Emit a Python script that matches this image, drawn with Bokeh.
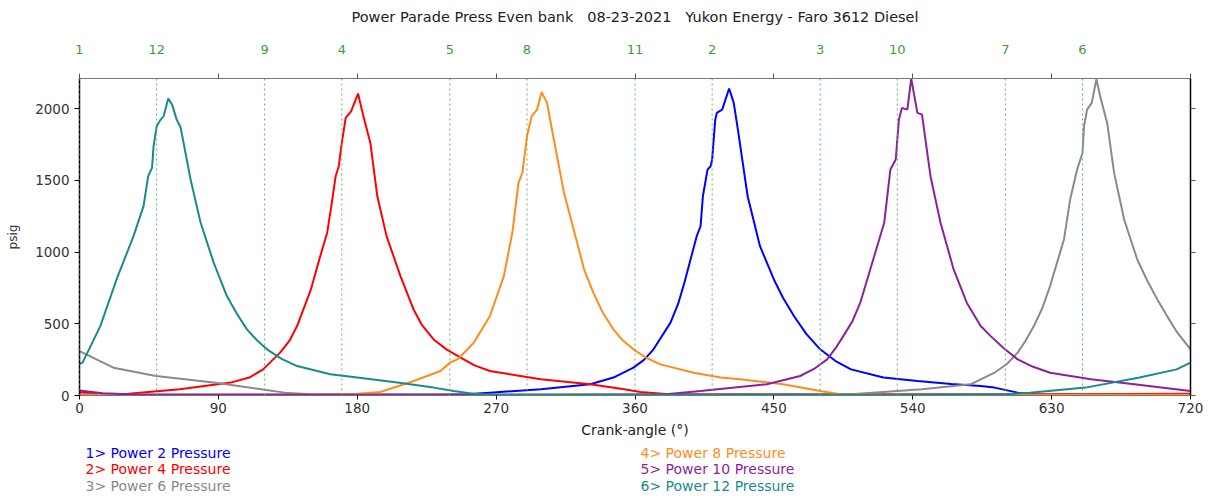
from bokeh.plotting import figure
from bokeh.models import Range1d, LinearAxis, FixedTicker, Span
from bokeh.layouts import column
from bokeh.embed import file_html
from bokeh.resources import INLINE
from bokeh.core.properties import value

# ---------------- data ----------------
title_parts = ["Power Parade Press Even bank", "08-23-2021", "Yukon Energy - Faro 3612 Diesel"]
x_label = "Crank-angle (°)"
y_label = "psig"

cyl_angles = [0, 50, 120, 170, 240, 290, 360, 410, 480, 530, 600, 650]
cyl_labels = ["1", "12", "9", "4", "5", "8", "11", "2", "3", "10", "7", "6"]
x_ticks = [0, 90, 180, 270, 360, 450, 540, 630, 720]
y_ticks = [0, 500, 1000, 1500, 2000]

series_names = ["1> Power 2 Pressure", "2> Power 4 Pressure", "3> Power 6 Pressure",
                "4> Power 8 Pressure", "5> Power 10 Pressure", "6> Power 12 Pressure"]

p2_deg = [0, 60, 120, 180, 230, 250, 266, 299, 331, 346, 359, 366, 372, 383, 388, 392, 400, 402.5,
          404, 407, 409, 410, 412, 413, 416.5, 421, 424, 427, 433, 441, 450, 456, 463, 471, 480,
          490, 500, 521, 543, 565, 584, 593, 608, 620, 660, 720]
p2_psig = [6, 5, 6, 5, 6, 8, 20, 43, 78, 125, 194, 250, 322, 508, 640, 786, 1111, 1180,
           1389, 1575, 1598, 1645, 1923, 1970, 1993, 2140, 2040, 1831, 1389, 1041, 809, 680, 554, 430, 322,
           240, 182, 125, 101, 80, 66, 55, 20, 8, 6, 5]

p4_deg = [0, 15, 30, 65, 98, 110, 119, 130, 136, 141, 150, 156, 160.5, 163.5, 166, 168, 170, 172.5,
          176, 180.5, 184, 188.5, 193, 199, 208, 216.5, 222, 229.5, 238, 247, 256, 266, 299, 331, 353,
          363.5, 380, 450, 540, 630, 720]
p4_psig = [22, 12, 10, 43, 90, 125, 182, 299, 380, 484, 740, 971, 1134, 1343, 1529, 1598, 1761, 1935,
           1981, 2105, 1946, 1761, 1389, 1111, 832, 600, 490, 391, 320, 264, 210, 171, 113, 78, 43,
           24, 10, 8, 8, 8, 12]

p6_deg = [0, 22, 49.5, 87, 121, 133, 150, 250, 350, 450, 500, 546, 577.5, 593, 601, 608, 613, 618.5,
          624, 629, 638, 642, 646.5, 650, 651, 653, 656, 659, 662, 666, 670.5, 677, 685.5, 692, 698.5,
          705, 711.5, 720]
p6_psig = [310, 194, 136, 90, 38, 20, 8, 6, 5, 6, 8, 43, 78, 159, 220, 299, 380, 484,
           610, 763, 1088, 1366, 1575, 1691, 1877, 1993, 2040, 2205, 2063, 1900, 1552, 1227, 948, 800, 670,
           550, 438, 322]

p8_deg = [0, 90, 150, 180, 195, 216.5, 234, 240, 245, 255.5, 266, 275, 280.5, 284.5, 287,
          290, 293, 296.5, 299.5, 303, 307, 314, 322.5, 327, 333, 339, 346, 352, 359, 367, 376.5, 398, 415.5,
          428, 456, 480, 493, 520, 620, 720]
p8_psig = [5, 5, 6, 12, 24, 101, 171, 229, 252, 368, 554, 832, 1134, 1483, 1552,
           1807, 1946, 1993, 2115, 2040, 1807, 1413, 1065, 880, 717, 580, 461, 385, 322, 265, 217, 159, 125,
           113, 78, 31, 8, 5, 5, 5]

p10_deg = [0, 15, 40, 150, 300, 380, 402.5, 445.5, 467, 476, 484.5, 490, 495, 501, 506, 515, 521.5, 525.5,
           529, 531, 533, 536.5, 539, 543, 546, 551.5, 558, 566.5, 575, 584, 590.5, 599, 608,
           618, 629, 655.5, 683.5, 720]
p10_psig = [35, 15, 6, 5, 6, 8, 31, 78, 136, 185, 252, 330, 414, 520, 647, 971, 1204, 1575,
            1645, 1923, 2005, 1993, 2210, 1970, 1958, 1529, 1204, 879, 647, 484, 414, 330, 252,
            200, 159, 113, 78, 31]

p12_deg = [0, 2, 13.5, 24, 35, 41.5, 44.5, 47, 48, 50, 52.5, 54.5, 57.5, 60, 63, 65.5,
           72, 78.5, 87, 95.5, 102, 108.5, 115, 121.5, 131, 141, 162.5, 180, 206, 229.5, 242.5, 255, 270,
           360, 450, 540, 600, 616, 652, 687, 711, 720]
p12_psig = [220, 229, 484, 809, 1111, 1320, 1529, 1587, 1737, 1877, 1923, 1946, 2070, 2028, 1923, 1870,
            1506, 1204, 925, 693, 570, 461, 385, 322, 255, 205, 148, 125, 90, 55, 31, 12, 6,
            5, 6, 5, 8, 20, 55, 125, 182, 229]

series_deg = [p2_deg, p4_deg, p6_deg, p8_deg, p10_deg, p12_deg]
series_psig = [p2_psig, p4_psig, p6_psig, p8_psig, p10_psig, p12_psig]
series_colors = ["#0000ff", "#ff0000", "#8a8a8a", "#ff8c1a", "#8e1f9e", "#168c8c"]

FONT = "DejaVu Sans"
GREEN = "#3c9c3c"
GAP = "\u00a0\u00a0\u00a0"

W = 1205
BL, BR = 79, 15
FW = W - BL - BR


def text_strip(height):
    f = figure(width=W, height=height, x_range=Range1d(0, FW), y_range=Range1d(height, 0),
               output_backend="svg", toolbar_location=None,
               min_border_left=BL, min_border_right=BR, min_border_top=0, min_border_bottom=0)
    f.axis.visible = False
    f.grid.visible = False
    f.outline_line_color = None
    f.background_fill_color = "white"
    f.border_fill_color = "white"
    return f


# ---------------- title strip ----------------
TH = 28
tfig = text_strip(TH)
tfig.text(x=[FW / 2], y=[16], text=[GAP.join(title_parts)], text_color="#222222",
          text_font=value(FONT), text_font_size="14.5px", text_baseline="middle",
          text_align="center")

# ---------------- main plot ----------------
p = figure(width=W, height=440 - TH, x_range=Range1d(0, 720), y_range=Range1d(0, 2210),
           output_backend="svg", toolbar_location=None,
           min_border_left=BL, min_border_right=BR, min_border_top=78 - TH, min_border_bottom=44)
p.outline_line_color = None
p.grid.visible = False
p.background_fill_color = "white"
p.border_fill_color = "white"

xa = p.xaxis[0]
xa.ticker = FixedTicker(ticks=x_ticks)
xa.axis_label = x_label
xa.axis_label_text_font = FONT
xa.axis_label_text_font_size = "14px"
xa.axis_label_text_font_style = "normal"
xa.axis_label_text_color = "#222222"
xa.axis_label_standoff = 6
xa.major_label_text_font = FONT
xa.major_label_text_font_size = "13.5px"
xa.major_label_text_color = "#333333"
xa.major_label_standoff = 3
xa.major_tick_out = 4
xa.major_tick_in = 0
xa.minor_tick_out = 0
xa.minor_tick_in = 0
xa.axis_line_color = "#777777"

ya = p.yaxis[0]
ya.ticker = FixedTicker(ticks=y_ticks)
ya.axis_label = y_label
ya.axis_label_text_font = FONT
ya.axis_label_text_font_size = "12px"
ya.axis_label_text_font_style = "normal"
ya.axis_label_text_color = "#333333"
ya.axis_label_standoff = 12
ya.major_label_text_font = FONT
ya.major_label_text_font_size = "13.5px"
ya.major_label_text_color = "#333333"
ya.major_label_standoff = 5
ya.major_tick_out = 5
ya.major_tick_in = 0
ya.minor_tick_out = 0
ya.minor_tick_in = 0
ya.axis_line_color = "black"
ya.axis_line_width = 1.5

ra = LinearAxis(ticker=FixedTicker(ticks=y_ticks),
                major_label_overrides={t: "" for t in y_ticks},
                major_tick_out=5, major_tick_in=0, minor_tick_out=0, minor_tick_in=0,
                axis_line_color="black", axis_line_width=1.5,
                major_tick_line_color="#555555")
p.add_layout(ra, "right")

ta = LinearAxis(ticker=FixedTicker(ticks=cyl_angles, minor_ticks=x_ticks),
                major_label_overrides={a: l for a, l in zip(cyl_angles, cyl_labels)},
                major_tick_out=0, major_tick_in=0, minor_tick_out=5, minor_tick_in=0,
                major_label_standoff=20,
                major_label_text_font=FONT, major_label_text_font_size="13px",
                major_label_text_color=GREEN,
                axis_line_color="#777777", minor_tick_line_color="#555555")
p.add_layout(ta, "above")

for a in cyl_angles:
    p.add_layout(Span(location=a, dimension="height", line_color="#5cb85c",
                      line_dash="2 3", line_width=1))

for d, v, c in zip(series_deg, series_psig, series_colors):
    p.line(d, v, line_color=c, line_width=2)

# ---------------- legend (coloured text) ----------------
LH = 55
leg = text_strip(LH)
lx = [6 + (i // 3) * 555 for i in range(len(series_names))]
ly = [12.2 + (i % 3) * 16.6 for i in range(len(series_names))]
leg.text(x=lx, y=ly, text=series_names, text_color=series_colors,
         text_font=value(FONT), text_font_size="14px", text_baseline="middle",
         text_align="left")

layout = column(tfig, p, leg, spacing=0)
open("out.html", "w").write(file_html(layout, INLINE))
